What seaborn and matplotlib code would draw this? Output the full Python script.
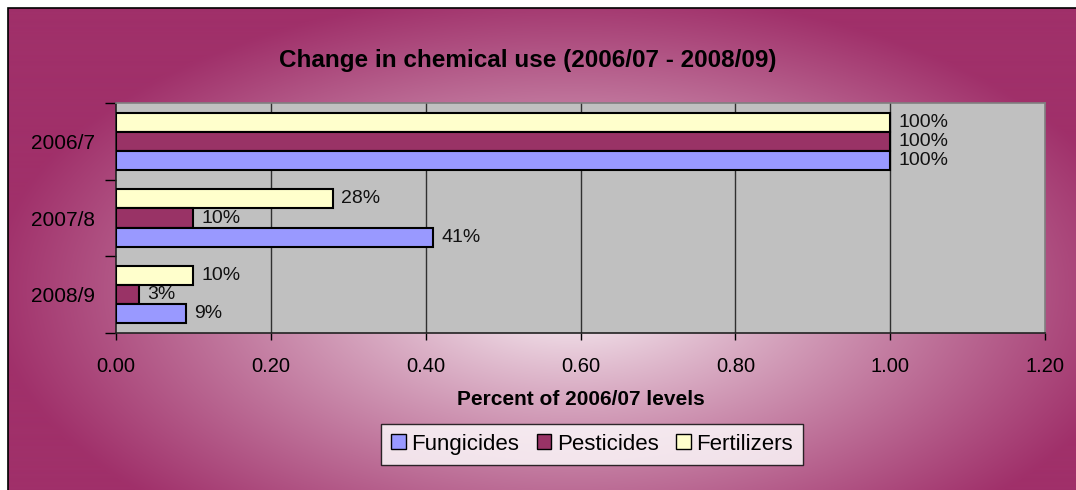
import matplotlib

matplotlib.use("Agg")
import matplotlib.pyplot as plt
import numpy as np
import pandas as pd
import seaborn as sns
from matplotlib.patches import Patch, Rectangle

YEARS = ["2006/7", "2007/8", "2008/9"]
FUNGICIDES = [1.00, 0.41, 0.09]
PESTICIDES = [1.00, 0.10, 0.03]
FERTILIZERS = [1.00, 0.28, 0.10]
SERIES = ["Fungicides", "Pesticides", "Fertilizers"]
XTICKS = [0.0, 0.2, 0.4, 0.6, 0.8, 1.0, 1.2]

COLORS = {"Fungicides": "#9999FF", "Pesticides": "#993366", "Fertilizers": "#FFFFCC"}

df = pd.DataFrame({
    "year": YEARS * 3,
    "series": [s for s in SERIES for _ in YEARS],
    "value": FUNGICIDES + PESTICIDES + FERTILIZERS,
})

sns.set_theme(style="white")
plt.rcParams["font.family"] = ["Liberation Sans", "DejaVu Sans"]
plt.rcParams["text.color"] = "black"
plt.rcParams["xtick.color"] = "black"
plt.rcParams["ytick.color"] = "black"
plt.rcParams["axes.labelcolor"] = "black"

W, H = 1076, 490
fig = plt.figure(figsize=(W / 100, H / 100), dpi=100)
fig.patch.set_facecolor("white")

# radial magenta -> white background of the chart area (frame runs off right/bottom)
x0, y0 = 8, 8
bg = fig.add_axes([x0 / W, 0, 1 - x0 / W, 1 - y0 / H])
gx, gy = np.meshgrid(np.arange(W - x0) + x0, np.arange(H - y0) + y0)
r = np.sqrt(((gx - 570) / 580) ** 2 + ((gy - 290) / 300) ** 2)
t = np.clip(r, 0, 1) ** 0.85
edge = np.array([160, 48, 106]) / 255
img = (1 - t[..., None]) * np.ones(3) + t[..., None] * edge
bg.imshow(img, aspect="auto", extent=[0, 1, 0, 1], origin="upper")
bg.set_axis_off()
fig.add_artist(Rectangle((x0 / W, -0.1), 1.2, 1.1 - y0 / H, transform=fig.transFigure,
                         fill=False, edgecolor="black", linewidth=1.2))

ax = fig.add_axes([116 / W, 1 - 333 / H, (1045 - 116) / W, (333 - 103) / H])
ax.set_facecolor("#C0C0C0")

hue_order = ["Fertilizers", "Pesticides", "Fungicides"]  # top to bottom in a group
sns.barplot(data=df, x="value", y="year", hue="series", hue_order=hue_order,
            order=YEARS, palette=COLORS, saturation=1, width=0.75, orient="h",
            edgecolor="black", linewidth=1.5, ax=ax, legend=False, zorder=3)

for cont in ax.containers:
    vals = cont.datavalues
    ax.bar_label(cont, labels=[f"{v * 100:.0f}%" for v in vals], padding=6,
                 fontsize=14, color="#111111")

ax.set_xlim(0, 1.2)
ax.set_ylim(2.5, -0.5)
ax.set_xticks(XTICKS)
ax.set_xticklabels([f"{v:.2f}" for v in XTICKS], fontsize=14.5)
ax.set_yticks(range(len(YEARS)))
ax.set_yticklabels(YEARS, fontsize=15)
ax.set_yticks([-0.5, 0.5, 1.5, 2.5], minor=True)
ax.tick_params(axis="y", which="major", length=0, pad=15)
ax.tick_params(axis="y", which="minor", length=8, width=1, color="black", direction="out", left=True)
ax.tick_params(axis="x", length=5, width=1, color="black", direction="out", bottom=True, pad=12)
ax.set_xlabel("Percent of 2006/07 levels", fontsize=15, fontweight="bold", labelpad=10)
ax.set_ylabel("")

for v in XTICKS[1:-1]:
    ax.axvline(v, color="#303030", linewidth=1, zorder=1)

for side in ["top", "right"]:
    ax.spines[side].set_color("#808080")
    ax.spines[side].set_linewidth(1.2)
for side in ["left", "bottom"]:
    ax.spines[side].set_color("#222222")
    ax.spines[side].set_linewidth(1.2)

fig.text(528 / W, 1 - 60 / H, "Change in chemical use (2006/07 - 2008/09)",
         ha="center", va="center", fontsize=17.5, fontweight="bold")

handles = [Patch(facecolor=COLORS[s], edgecolor="black", linewidth=1, label=s) for s in SERIES]
leg = fig.legend(handles=handles, loc="center", bbox_to_anchor=(592 / W, 1 - 444 / H),
                 ncol=3, fontsize=16, frameon=True, fancybox=False, handlelength=0.65,
                 handleheight=0.65, handletextpad=0.25, columnspacing=0.8,
                 borderpad=0.45, edgecolor="black")
leg.get_frame().set_linewidth(1)
leg.get_frame().set_facecolor("white")

fig.savefig("out.png", dpi=100)
